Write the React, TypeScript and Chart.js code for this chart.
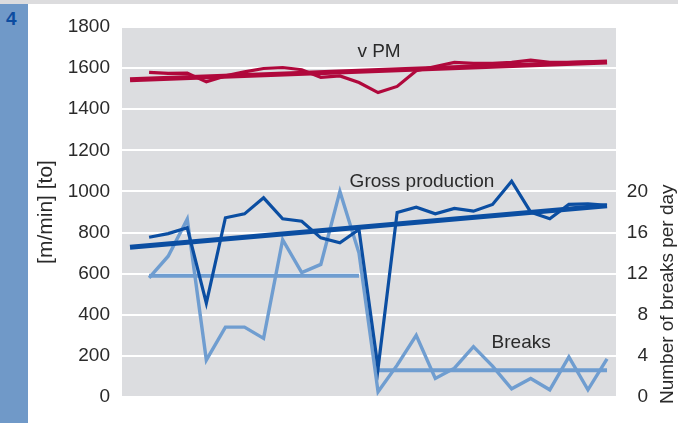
import React, { useEffect, useRef } from "react";
import { Chart, registerables } from "chart.js";

Chart.register(...registerables);

// ---- data ----
const dayIndex = [0, 1, 2, 3, 4, 5, 6, 7, 8, 9, 10, 11, 12, 13, 14, 15, 16, 17, 18, 19, 20, 21, 22, 23, 24];
const vPM = [1579, 1574, 1576, 1533, 1562, 1582, 1598, 1603, 1592, 1555, 1562, 1530, 1481, 1511, 1587, 1608, 1628, 1623, 1623, 1628, 1639, 1628, 1628, 1631, 1628];
const grossProduction = [777, 795, 823, 457, 872, 891, 969, 867, 855, 774, 750, 815, 140, 898, 923, 891, 917, 904, 937, 1050, 899, 867, 937, 940, 932];
const breaksPerDay = [11.6, 13.7, 17.3, 3.6, 6.8, 6.8, 5.7, 15.3, 12.1, 12.9, 20.0, 14.0, 0.5, 3.1, 6.0, 1.8, 2.8, 4.9, 3.0, 0.8, 1.8, 0.7, 3.9, 0.7, 3.7];

const trendX = [-1, 24];
const vPMTrend = [1543, 1630];
const grossTrend = [728, 930];

const breaksAvgX1 = [0, 11];
const breaksAvg1 = [11.8, 11.8];
const breaksAvgX2 = [12, 24];
const breaksAvg2 = [2.6, 2.6];

const leftTicks = [0, 200, 400, 600, 800, 1000, 1200, 1400, 1600, 1800];
const rightTickLabels = [0, 4, 8, 12, 16, 20];

const leftTitle = "[m/min] [to]";
const rightTitle = "Number of breaks per day";
const figureNumber = "4";

// label anchors in data units: [text, x index, value, axis]
const seriesLabels: [string, number, number, string][] = [
  ["v PM", 12.05, 1678, "y"],
  ["Gross production", 14.3, 1049, "y"],
  ["Breaks", 19.5, 5.25, "y2"],
];

const RED = "#b0083c";
const BLUE = "#0b4ea2";
const LIGHT = "#6f9dd0";
const FONT = "'Liberation Sans', Arial, sans-serif";
const TEXT = "#2a2a2a";

const pts = (xs: number[], ys: number[]) => xs.map((x, i) => ({ x, y: ys[i] }));

export default function App() {
  const ref = useRef<HTMLCanvasElement | null>(null);

  useEffect(() => {
    if (!ref.current) return;

    const bgPlugin = {
      id: "bg",
      beforeDraw(chart: any) {
        const { ctx, chartArea } = chart;
        ctx.save();
        ctx.fillStyle = "#dcdde0";
        ctx.fillRect(chartArea.left, chartArea.top, chartArea.right - chartArea.left, chartArea.bottom - chartArea.top);
        ctx.restore();
      },
      afterDatasetsDraw(chart: any) {
        const { ctx } = chart;
        const xs = chart.scales.x;
        ctx.save();
        ctx.font = `19px ${FONT}`;
        ctx.fillStyle = TEXT;
        ctx.textAlign = "center";
        ctx.textBaseline = "middle";
        seriesLabels.forEach(([t, xi, v, ax]) => {
          ctx.fillText(t, xs.getPixelForValue(xi), chart.scales[ax].getPixelForValue(v));
        });
        // right axis title, reading bottom to top
        const y2 = chart.scales.y2;
        ctx.translate(668, y2.getPixelForValue(10));
        ctx.rotate(-Math.PI / 2);
        ctx.fillText(rightTitle, 0, 0);
        ctx.restore();
      },
    };

    const chart = new Chart(ref.current, {
      type: "line",
      data: {
        datasets: [
          { data: pts(dayIndex, grossProduction), borderColor: BLUE, borderWidth: 3.2, yAxisID: "y", order: 1 },
          { data: pts(trendX, grossTrend), borderColor: BLUE, borderWidth: 5, yAxisID: "y", order: 2 },
          { data: pts(dayIndex, vPM), borderColor: RED, borderWidth: 3.2, yAxisID: "y", order: 1 },
          { data: pts(trendX, vPMTrend), borderColor: RED, borderWidth: 5, yAxisID: "y", order: 2 },
          { data: pts(dayIndex, breaksPerDay), borderColor: LIGHT, borderWidth: 3.4, yAxisID: "y2", order: 3 },
          { data: pts(breaksAvgX1, breaksAvg1), borderColor: LIGHT, borderWidth: 4, yAxisID: "y2", order: 4 },
          { data: pts(breaksAvgX2, breaksAvg2), borderColor: LIGHT, borderWidth: 4, yAxisID: "y2", order: 4 },
        ] as any,
      },
      options: {
        animation: false,
        responsive: false,
        devicePixelRatio: 1,
        layout: { padding: { top: 27, bottom: 26, left: 0, right: 30 } },
        elements: {
          point: { radius: 0, hoverRadius: 0 },
          line: { tension: 0, fill: false, borderJoinStyle: "miter", borderCapStyle: "butt" },
        },
        plugins: { legend: { display: false }, tooltip: { enabled: false } },
        scales: {
          x: { type: "linear", min: -1.42, max: 24.47, display: false },
          y: {
            position: "left",
            min: 0,
            max: 1800,
            afterFit: (s: any) => { s.width = 122; },
            afterBuildTicks: (s: any) => { s.ticks = leftTicks.map((v) => ({ value: v })); },
            ticks: { padding: 12, color: TEXT, font: { family: FONT, size: 19 }, callback: (v: any) => String(v) },
            grid: { color: "#ffffff", lineWidth: 2, drawTicks: false },
            border: { display: false },
            title: { display: true, text: leftTitle, color: TEXT, font: { family: FONT, size: 21 }, padding: { top: 34, bottom: 0 } },
          },
          y2: {
            position: "right",
            min: 0,
            max: 36,
            afterFit: (s: any) => { s.width = 32; },
            afterBuildTicks: (s: any) => { s.ticks = rightTickLabels.map((v) => ({ value: v })); },
            ticks: { padding: 11, crossAlign: "far", color: TEXT, font: { family: FONT, size: 19 }, callback: (v: any) => String(v) },
            grid: { display: false },
            border: { display: false },
          },
        },
      } as any,
      plugins: [bgPlugin],
    });
    return () => chart.destroy();
  }, []);

  return (
    <div style={{ position: "fixed", left: 0, top: 0, width: 678, height: 423, background: "#fff", overflow: "hidden" }}>
      <div style={{ position: "absolute", left: 0, top: 0, width: 678, height: 4, background: "#dcdcde" }} />
      <div style={{ position: "absolute", left: 0, top: 4, width: 28, height: 419, background: "#7099c8" }} />
      <div style={{ position: "absolute", left: 6, top: 9, fontFamily: FONT, fontWeight: 700, fontSize: 19, color: "#0c4ca0", lineHeight: "20px" }}>
        {figureNumber}
      </div>
      <canvas ref={ref} width={678} height={423} style={{ position: "absolute", left: 0, top: 0, width: 678, height: 423 }} />
    </div>
  );
}
